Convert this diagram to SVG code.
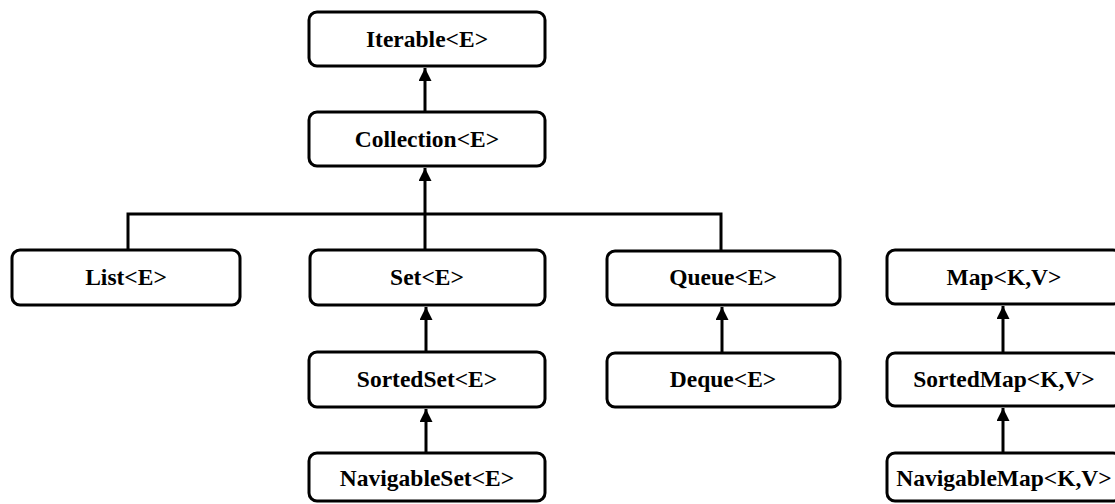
<svg xmlns="http://www.w3.org/2000/svg" width="1115" height="504" viewBox="0 0 1115 504">
<style>
.box{fill:#fff;stroke:#000;stroke-width:3}
.lbl{font-family:"Liberation Serif","Times New Roman",serif;font-weight:bold;font-size:23.5px;text-anchor:middle;fill:#000}
.ln{fill:none;stroke:#000;stroke-width:3}
</style>
<defs>
<marker id="arr" viewBox="0 0 13 13" refX="13" refY="6.5" markerWidth="13" markerHeight="13" markerUnits="userSpaceOnUse" orient="auto">
<path d="M0,0 L13,6.5 L0,13 Z" fill="#000"/>
</marker>
</defs>
<g id="connectors">
<polyline class="ln" points="128,250 128,214 721,214 721,250"/>
<line class="ln" x1="425" y1="250" x2="425" y2="168" marker-end="url(#arr)"/>
<line class="ln" x1="425" y1="112" x2="425" y2="68" marker-end="url(#arr)"/>
<line class="ln" x1="426" y1="352" x2="426" y2="307" marker-end="url(#arr)"/>
<line class="ln" x1="426" y1="453" x2="426" y2="409" marker-end="url(#arr)"/>
<line class="ln" x1="722" y1="353" x2="722" y2="307" marker-end="url(#arr)"/>
<line class="ln" x1="1003" y1="353" x2="1003" y2="306" marker-end="url(#arr)"/>
<line class="ln" x1="1003" y1="453" x2="1003" y2="408" marker-end="url(#arr)"/>
</g>
<g id="iterable"><rect class="box" x="309" y="12" width="236" height="54" rx="8"/><text class="lbl" x="427" y="47">Iterable&lt;E&gt;</text></g>
<g id="collection"><rect class="box" x="309" y="112" width="236" height="54" rx="8"/><text class="lbl" x="427" y="147">Collection&lt;E&gt;</text></g>
<g id="list"><rect class="box" x="12" y="250" width="228" height="55" rx="8"/><text class="lbl" x="126" y="285">List&lt;E&gt;</text></g>
<g id="set"><rect class="box" x="310" y="250" width="235" height="55" rx="8"/><text class="lbl" x="427" y="285">Set&lt;E&gt;</text></g>
<g id="queue"><rect class="box" x="607" y="251" width="233" height="54" rx="8"/><text class="lbl" x="723" y="285">Queue&lt;E&gt;</text></g>
<g id="map"><rect class="box" x="887" y="250" width="234" height="54" rx="8"/><text class="lbl" x="1004" y="285">Map&lt;K,V&gt;</text></g>
<g id="sortedset"><rect class="box" x="309" y="352" width="236" height="55" rx="8"/><text class="lbl" x="427" y="387">SortedSet&lt;E&gt;</text></g>
<g id="deque"><rect class="box" x="607" y="353" width="233" height="54" rx="8"/><text class="lbl" x="723" y="387">Deque&lt;E&gt;</text></g>
<g id="sortedmap"><rect class="box" x="887" y="353" width="234" height="53" rx="8"/><text class="lbl" x="1004" y="387">SortedMap&lt;K,V&gt;</text></g>
<g id="navigableset"><rect class="box" x="309" y="453" width="236" height="48" rx="8"/><text class="lbl" x="427" y="486">NavigableSet&lt;E&gt;</text></g>
<g id="navigablemap"><rect class="box" x="887" y="453" width="234" height="48" rx="8"/><text class="lbl" x="1004" y="486">NavigableMap&lt;K,V&gt;</text></g>
</svg>
